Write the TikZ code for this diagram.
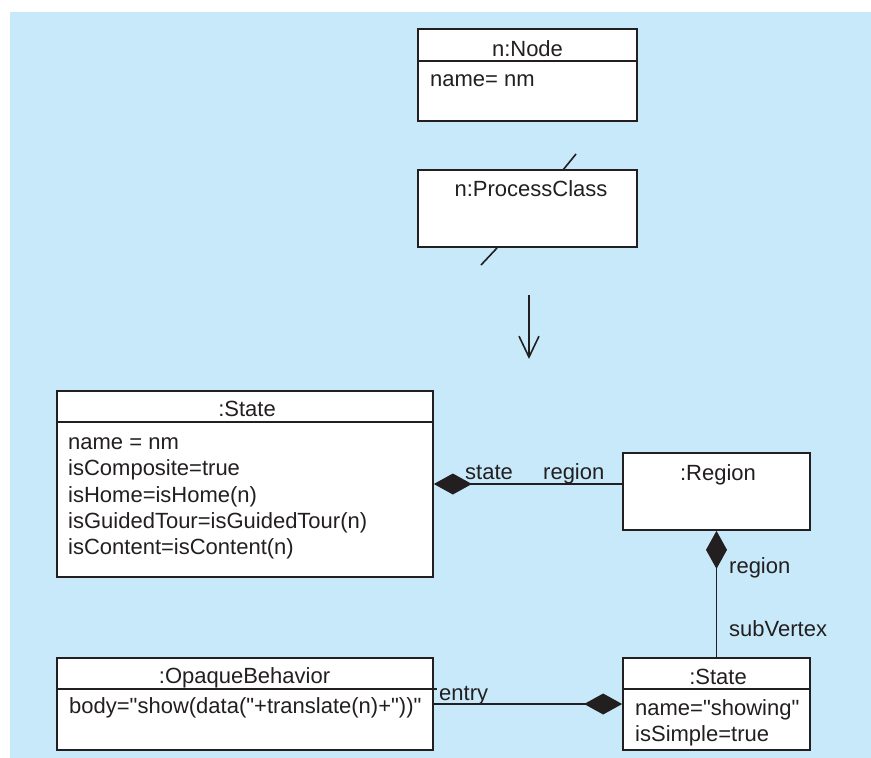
\documentclass[tikz,border=0pt]{standalone}
\usepackage{fontspec}
\setmainfont{Liberation Sans}[Ligatures=TeXOff]
\usetikzlibrary{arrows.meta}
\definecolor{bgblue}{RGB}{199,233,249}
\definecolor{ink}{RGB}{35,31,32}
\begin{document}
\begin{tikzpicture}[x=1pt,y=-1pt,
  box/.style={draw=ink,fill=white,line width=1.7pt,rectangle,inner sep=0pt},
  txt/.style={inner sep=0pt,anchor=base,font=\fontsize{22}{26}\selectfont,text=ink},
  ltxt/.style={txt,anchor=base west},
  sep/.style={draw=ink,line width=1.7pt},
  conn/.style={draw=ink,line width=1.6pt},
  comp/.style={conn,-{Diamond[length=38pt,width=21pt,fill=ink,color=ink]}},
  openarr/.style={conn,-{Straight Barb[length=21pt,width=20pt,color=ink]}}]
\useasboundingbox (0,0) rectangle (871,758);
\fill[bgblue] (10,12) rectangle (871,758);

% boxes
\node[box,minimum width=219pt,minimum height=92pt] (nnode) at (527.5,75) {};
\node[box,minimum width=219pt,minimum height=77pt] (pc) at (527.5,208.5) {};
\node[box,minimum width=376pt,minimum height=186pt] (st1) at (245,484) {};
\node[box,minimum width=187pt,minimum height=77pt] (reg) at (716.5,491.5) {};
\node[box,minimum width=187pt,minimum height=92pt] (st2) at (716.5,704) {};
\node[box,minimum width=376pt,minimum height=92pt] (ob) at (245,704) {};

% separators
\draw[sep] (nnode.west |- 0,60.7) -- ++(221,0);
\draw[sep] (st1.west |- 0,421.7) -- ++(378,0);
\draw[sep] (st2.west |- 0,689.3) -- ++(189,0);
\draw[sep] (ob.west |- 0,689.3) -- ++(381,0);

% texts
\node[txt] (tnode) at (527.5,56) {n:Node};
\node[ltxt] (anode) at (430,86.5) {name= nm};
\node[txt] (tpc) at (531,196.5) {n:ProcessClass};
\node[txt] (tst1) at (247,416.5) {:State};
\node[ltxt] (a1) at (68,449.5) {name = nm};
\node[ltxt] (a2) at (68,475.8) {isComposite=true};
\node[ltxt] (a3) at (68,502.1) {isHome=isHome(n)};
\node[ltxt] (a4) at (68,528.4) {isGuidedTour=isGuidedTour(n)};
\node[ltxt] (a5) at (68,554.7) {isContent=isContent(n)};
\node[txt] (treg) at (718,480) {:Region};
\node[txt] (tst2) at (718,684.5) {:State};
\node[ltxt] (b1) at (635,715) {name="showing"};
\node[ltxt] (b2) at (635,741.5) {isSimple=true};
\node[txt] (tob) at (244.5,683.5) {:OpaqueBehavior};
\node[ltxt] (c1) at (69,713.3) {body="show(data("+translate(n)+"))"};

% connectors
\draw[comp] (reg.west |- st1.east) -- (st1.east);
\draw[comp] (st2.north) -- (reg.south);
\draw[comp] (ob.east) -- (st2.west);

% role labels
\node[ltxt] (lstate) at (465,479.3) {state};
\node[ltxt] (lregion) at (543,479.3) {region};
\node[ltxt] (lregion2) at (729,573.3) {region};
\node[ltxt] (lsub) at (729,636.7) {subVertex};
\node[ltxt] (lentry) at (439,700) {entry};

% slash marks on ProcessClass
\coordinate (s1a) at (563,170);
\coordinate (s1b) at (576,154);
\coordinate (s2a) at (497,248);
\coordinate (s2b) at (481,265);
\draw[conn] (s1a) -- (s1b);
\draw[conn] (s2a) -- (s2b);

% transformation arrow
\coordinate (ar1) at (529,295);
\coordinate (ar2) at (529,359);
\draw[openarr] (ar1) -- (ar2);
\end{tikzpicture}
\end{document}
